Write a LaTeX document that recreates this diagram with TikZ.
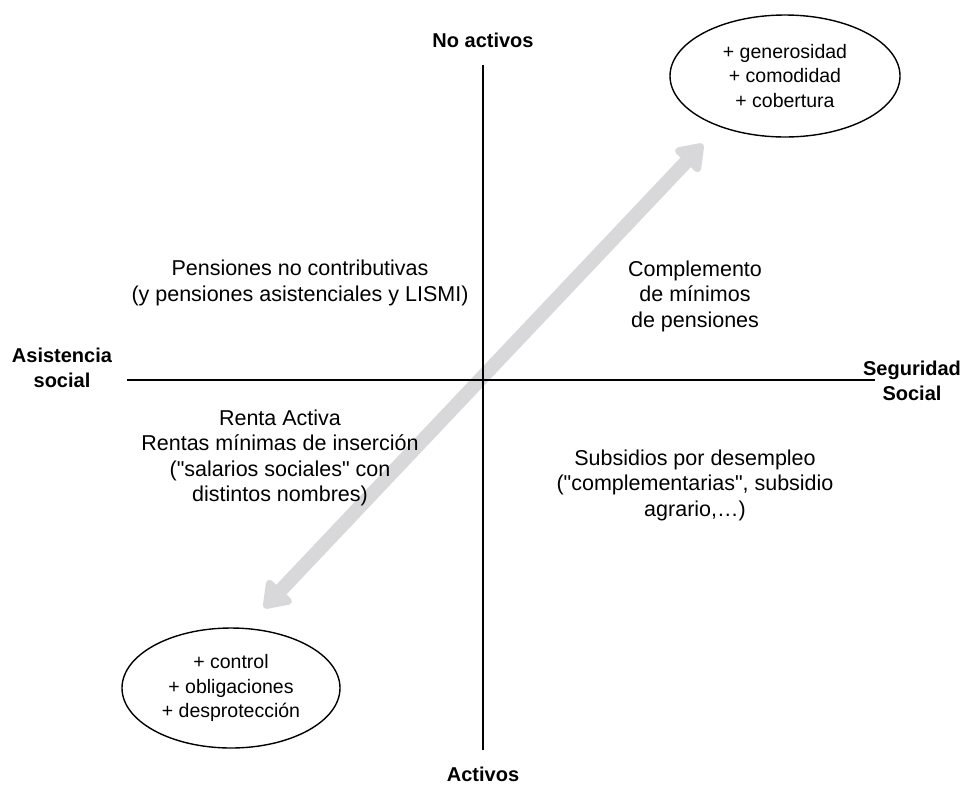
\documentclass[tikz,border=0pt]{standalone}
\usepackage{fontspec}
\setmainfont{Liberation Sans}
\usetikzlibrary{arrows.meta,shapes.geometric}
\definecolor{arrowgrey}{RGB}{216,216,218}
\newcommand{\dq}{\XeTeXglyph\XeTeXglyphindex "quotedbl"\relax}
\tikzset{
  axis/.style={line width=1.4pt, black},
  lbl/.style={align=center, inner sep=0pt, font=\fontsize{21.5}{25.5}\selectfont},
  axlbl/.style={align=center, inner sep=0pt, font=\fontsize{20}{25.5}\selectfont\bfseries},
  oval/.style={ellipse, draw, line width=1.4pt, align=center, inner sep=0pt, font=\fontsize{19.5}{24.8}\selectfont},
  bigarrow/.style={line width=14pt, arrowgrey, {Triangle[width=38pt,length=28pt,round]}-{Triangle[width=38pt,length=28pt,round]}}
}
\begin{document}
\begin{tikzpicture}[x=1pt,y=-1pt]
\useasboundingbox (0,0) rectangle (968,785);
% arrow
\coordinate (a1) at (264,608);
\coordinate (a2) at (703,144);
\draw[bigarrow] (a1) -- (a2);
% axes
\coordinate (vt) at (483,65);
\coordinate (vb) at (483,750);
\coordinate (hl) at (127,380);
\coordinate (hr) at (875,380);
\draw[axis] (vt) -- (vb);
\draw[axis] (hl) -- (hr);
% axis labels
\node[axlbl] (noact) at (483,40) {No activos};
\node[axlbl] (act) at (483,774) {Activos};
\node[axlbl] (asis) at (62,368) {Asistencia\\social};
\node[axlbl] (seg) at (912,381) {Seguridad\\Social};
% ellipses
\node[oval, minimum width=230pt, minimum height=122pt] (top) at (785,76) {+ generosidad\\+ comodidad\\+ cobertura};
\node[oval, minimum width=218pt, minimum height=120pt] (bot) at (231,688) {+ control\\+ obligaciones\\+ desprotección};
% quadrant texts
\node[lbl] (q1) at (300,283) {Pensiones no contributivas\\(y pensiones asistenciales y LISMI)};
\node[lbl] (q2) at (695,296) {Complemento\\de mínimos\\de pensiones};
\node[lbl] (q3) at (280,458) {Renta Activa\\Rentas mínimas de inserción\\(\dq salarios sociales\dq{} con\\distintos nombres)};
\node[lbl] (q4) at (695,485) {Subsidios por desempleo\\(\dq complementarias\dq, subsidio\\agrario,…)};
\end{tikzpicture}
\end{document}
